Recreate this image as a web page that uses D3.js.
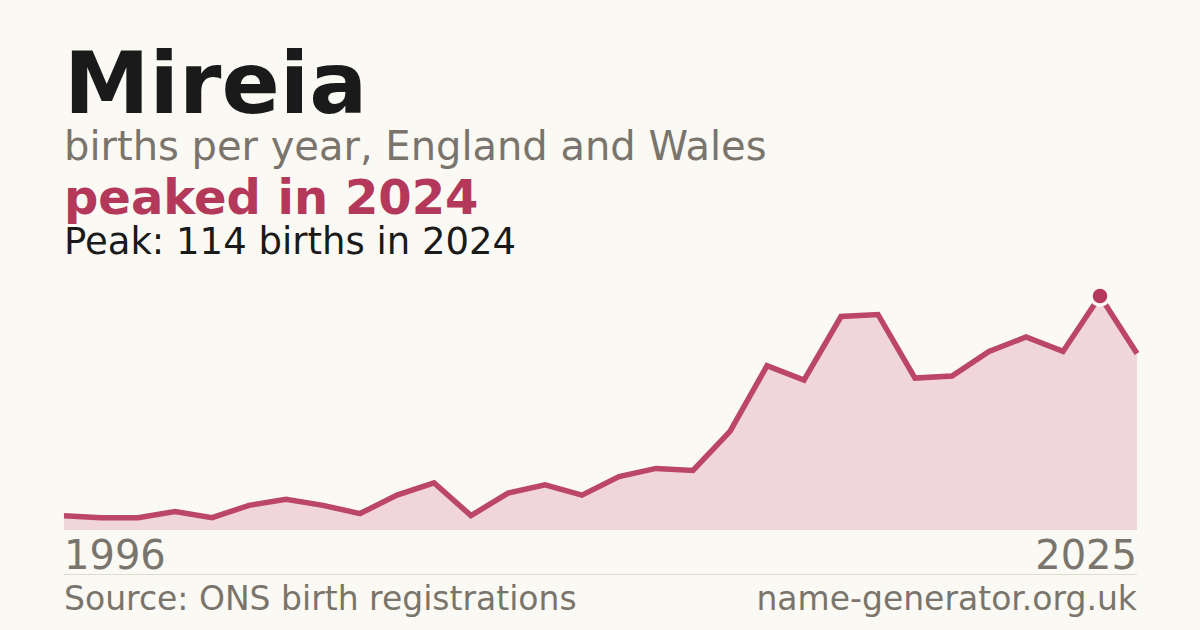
<!DOCTYPE html>
<html>
<head>
<meta charset="utf-8">
<script src="https://cdn.jsdelivr.net/npm/d3@7"></script>
<style>
  html, body { margin: 0; padding: 0; background: #faf9f4; }
  svg { display: block; font-family: "DejaVu Sans", sans-serif; }
</style>
</head>
<body>
<svg id="chart" width="1200" height="630"></svg>
<script>
const years = d3.range(1996, 2026);
const births = [7, 6, 6, 9, 6, 12, 15, 12, 8, 17, 23, 7, 18, 22, 17, 26, 30, 29, 48, 80, 73, 104, 105, 74, 75, 87, 94, 87, 114, 86];
const axisLabels = ["1996", "2025"];
const nameTitle = "Mireia";
const subtitle = "births per year, England and Wales";
const headline = "peaked in 2024";
const peakText = "Peak: 114 births in 2024";
const sourceText = "Source: ONS birth registrations";
const siteText = "name-generator.org.uk";

(function () {
const svg = d3.select("#chart");
const W = 1200, H = 630;
const mLeft = 64, mRight = 1137, mTop = 296, mBottom = 530;
const accent = "#b3385a";
const grey = "#7a756c";

svg.append("rect").attr("width", W).attr("height", H).attr("fill", "#faf9f4");

const data = years.map((yr, i) => ({ year: yr, v: births[i] }));
const x = d3.scaleLinear().domain(d3.extent(years)).range([mLeft, mRight]);
const y = d3.scaleLinear().domain([0, d3.max(births)]).range([mBottom, mTop]);

svg.append("path")
  .datum(data)
  .attr("fill", "#f0d5db")
  .attr("d", d3.area().x(d => x(d.year)).y0(mBottom).y1(d => y(d.v)));

svg.append("path")
  .datum(data)
  .attr("fill", "none")
  .attr("stroke", "#bb4667")
  .attr("stroke-width", 5.5)
  .attr("stroke-linejoin", "miter")
  .attr("d", d3.line().x(d => x(d.year)).y(d => y(d.v)));

const peak = data.reduce((a, b) => (b.v > a.v ? b : a));
svg.append("circle")
  .attr("cx", x(peak.year)).attr("cy", y(peak.v))
  .attr("r", 9)
  .attr("fill", accent)
  .attr("stroke", "#faf9f4")
  .attr("stroke-width", 3.5);

svg.append("text").attr("x", mLeft).attr("y", 113)
  .attr("font-size", 86).attr("font-weight", "bold").attr("fill", "#1a1a1a")
  .text(nameTitle);
svg.append("text").attr("x", mLeft).attr("y", 160)
  .attr("font-size", 40).attr("fill", grey).text(subtitle);
svg.append("text").attr("x", mLeft).attr("y", 214)
  .attr("font-size", 48).attr("font-weight", "bold").attr("fill", accent).text(headline);
svg.append("text").attr("x", mLeft).attr("y", 254)
  .attr("font-size", 37).attr("fill", "#1a1a1a").text(peakText);

svg.append("text").attr("x", mLeft).attr("y", 569)
  .attr("font-size", 40).attr("fill", grey).text(axisLabels[0]);
svg.append("text").attr("x", mRight).attr("y", 569).attr("text-anchor", "end")
  .attr("font-size", 40).attr("fill", grey).text(axisLabels[1]);

svg.append("line").attr("x1", mLeft).attr("x2", mRight).attr("y1", 574.5).attr("y2", 574.5)
  .attr("stroke", "#dedbd3").attr("stroke-width", 1);

svg.append("text").attr("x", mLeft).attr("y", 610)
  .attr("font-size", 33).attr("fill", grey).text(sourceText);
svg.append("text").attr("x", mRight).attr("y", 610).attr("text-anchor", "end")
  .attr("font-size", 33).attr("fill", grey).text(siteText);
})();
</script>
</body>
</html>
